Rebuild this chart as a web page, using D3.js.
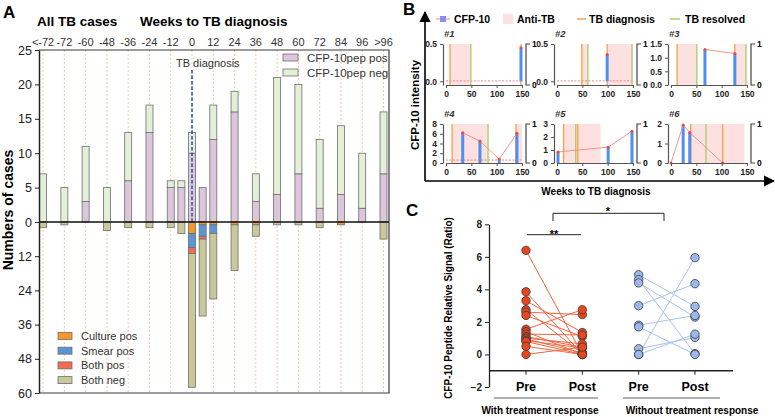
<!DOCTYPE html>
<html>
<head>
<meta charset="utf-8">
<script src="https://cdn.jsdelivr.net/npm/d3@7"></script>
<style>
body{margin:0;background:#fff;}
svg{display:block;font-family:"Liberation Sans",Arial,sans-serif;}
</style>
</head>
<body>
<div id="chart"></div>
<script>
// ---------- panel A data
const weekLabels = ["<-72","-72","-60","-48","-36","-24","-12","0","12","24","36","48","60","72","84","96",">96"];
const labelWeeks = [-84,-72,-60,-48,-36,-24,-12,0,12,24,36,48,60,72,84,96,108];
const barWeeks = [-84,-72,-60,-48,-36,-24,-12,-6,0,6,12,24,36,48,60,72,84,96,108];
const pepPos = [0,0,3,0,6,13,5,5,10,5,12,16,3,4,7,2,4,2,7];
const pepNeg = [7,5,8,5,7,4,1,1,3,0,5,3,4,17,13,10,10,8,9];
const culturePos = [0,0,0,0,0,0,0,0,4,1,1,1,1,0,0,0,1,0,0];
const smearPos   = [0,0,0,0,0,0,0,0,5,4,3,0,0,0,0,0,0,0,0];
const bothPos    = [0,0,0,0,0,0,0,0,2,1,0,0,0,0,0,0,0,0,0];
const bothNeg    = [2,1,0,3,2,2,2,4,47,27,23,16,4,1,1,2,0,0,6];
const upTicks = [0,5,10,15,20,25];
const downTicks = [12,24,36,48,60];

// ---------- panel B data
const miniNames = ["#1","#2","#3","#4","#5","#6"];
const miniYMin = [-0.05,-0.05,0,0,0,0];
const miniYMax = [0.5,0.5,1.5,8,3,2];
const miniYTicks = [[0,0.5],[0,0.5],[0,0.5,1,1.5],[0,2,4,6,8],[0,1,2,3],[0,1,2]];
const miniCutoff = [0.005,0.005,null,0.6,null,null];
const miniWeeks = [[148],[99],[67,126],[33,67,105,140],[2,101,148],[0,24,37,102]];
const miniSignal = [[0.45],[0.36],[1.3,1.15],[6.2,4.5,0.8,6.1],[0.85,1.22,2.45],[0,1.95,1.57,0]];
const miniAntiTB = [[[8,49]],[[49,61],[99,150]],[[12,51],[126,148]],[[12,83],[138,150]],[[13,86]],[[39,145]]];
const miniDiag = [[8,148],[49,99],[12,126],[12,138],[13,41],[39,102]];
const miniResolved = [[49],[61,148],[51,148],[83],[37],[69]];
const bLegend = ["CFP-10","Anti-TB","TB diagnosis","TB resolved"];

// ---------- panel C data
const cCats = ["Pre1","Post1","Pre2","Post2"];
const cLabels = ["Pre","Post","Pre","Post"];
const respPre  = [6.4,3.85,3.3,2.75,2.6,2.4,1.55,1.4,1.25,1.1,1.0,0.95,0.85,0.8,0.5,0.0];
const respPost = [0.0,0.0,1.35,0.05,2.45,1.1,2.75,0.0,1.2,0.45,0.65,0.1,0.4,0.0,0.0,0.45];
const nonPre  = [4.9,4.6,4.4,3.0,1.8,1.7,0.35,0.0,0.0];
const nonPost = [2.95,0.05,2.3,4.35,2.4,0.0,1.05,5.95,1.25];
const cTicks = [-2,0,2,4,6,8];

const svg = d3.select("#chart").append("svg").attr("width",775).attr("height",417);
svg.append("rect").attr("width",775).attr("height",417).attr("fill","#fff");

// ================= PANEL A
const a = {left:39,right:389,top:50,zero:222,bottom:393};
const x = d3.scaleLinear().domain([-86.3,111.1]).range([a.left,a.right]);
const yUp = d3.scaleLinear().domain([0,25]).range([a.zero,a.top]);
const yDown = d3.scaleLinear().domain([0,60]).range([a.zero,a.bottom]);

svg.append("text").attr("x",3).attr("y",18).attr("font-size",17).attr("font-weight","bold").text("A");
svg.append("text").attr("x",37).attr("y",26).attr("font-size",13.5).attr("font-weight","bold").text("All TB cases");
svg.append("text").attr("x",140).attr("y",26).attr("font-size",13.5).attr("font-weight","bold").text("Weeks to TB diagnosis");

// grid
svg.append("g").selectAll("line").data(labelWeeks).join("line")
  .attr("x1",d=>x(d)).attr("x2",d=>x(d)).attr("y1",a.top).attr("y2",a.bottom)
  .attr("stroke","#f7b98a").attr("stroke-width",0.8).attr("stroke-dasharray","2,2");

svg.append("g").selectAll("text").data(weekLabels).join("text")
  .attr("x",(d,i)=>x(labelWeeks[i])).attr("y",46).attr("text-anchor","middle")
  .attr("font-size",11).attr("fill","#333").text(d=>d);

// upper stacked bars
const upRows = barWeeks.map((w,i)=>({w,pos:pepPos[i],neg:pepNeg[i]}));
const upColor = {pos:"#dcc6dc",neg:"#e3efd8"};
svg.append("g").selectAll("g").data(d3.stack().keys(["pos","neg"])(upRows)).join("g")
  .attr("fill",d=>upColor[d.key])
  .selectAll("rect").data(d=>d.filter(s=>s[1]>s[0])).join("rect")
  .attr("x",d=>x(d.data.w)-3.5).attr("width",7)
  .attr("y",d=>yUp(d[1])).attr("height",d=>yUp(d[0])-yUp(d[1]))
  .attr("stroke","#6e6e6e").attr("stroke-width",0.8);

// lower stacked bars
const downRows = barWeeks.map((w,i)=>({w,culture:culturePos[i],smear:smearPos[i],both:bothPos[i],neg:bothNeg[i]}));
const downColor = {culture:"#f7962b",smear:"#5b95d5",both:"#f26d55",neg:"#c8c99a"};
svg.append("g").selectAll("g").data(d3.stack().keys(["culture","smear","both","neg"])(downRows)).join("g")
  .attr("fill",d=>downColor[d.key])
  .selectAll("rect").data(d=>d.filter(s=>s[1]>s[0])).join("rect")
  .attr("x",d=>x(d.data.w)-3.5).attr("width",7)
  .attr("y",d=>yDown(d[0])).attr("height",d=>yDown(d[1])-yDown(d[0]))
  .attr("stroke","#6e6e6e").attr("stroke-width",0.8);

// TB diagnosis marker
svg.append("line").attr("x1",x(0)).attr("x2",x(0)).attr("y1",70).attr("y2",a.zero)
  .attr("stroke","#2b5da8").attr("stroke-width",1.6).attr("stroke-dasharray","3.5,2");
svg.append("text").attr("x",x(0)-16).attr("y",67).attr("font-size",11).attr("fill","#333").text("TB diagnosis");

// frame + axes
svg.append("path").attr("d",`M${a.left},${a.top}H${a.right}V${a.bottom}H${a.left}`)
  .attr("fill","none").attr("stroke","#3a3a3a").attr("stroke-width",1.2);
svg.append("line").attr("x1",a.left).attr("x2",a.right).attr("y1",a.zero).attr("y2",a.zero)
  .attr("stroke","#111").attr("stroke-width",1.5);
const axU = svg.append("g").attr("transform",`translate(${a.left},0)`)
  .call(d3.axisLeft(yUp).tickValues(upTicks).tickSize(4).tickSizeOuter(0));
const axD = svg.append("g").attr("transform",`translate(${a.left},0)`)
  .call(d3.axisLeft(yDown).tickValues(downTicks).tickSize(4).tickSizeOuter(0));
[axU,axD].forEach(g=>{
  g.select(".domain").attr("stroke","#222").attr("stroke-width",1.5);
  g.selectAll("line").attr("stroke","#222");
  g.selectAll("text").attr("font-size",12.5).attr("fill","#222").attr("font-family","Liberation Sans, Arial, sans-serif");
});
svg.append("text").attr("transform","translate(13,210) rotate(-90)").attr("text-anchor","middle")
  .attr("font-size",14).attr("font-weight","bold").text("Numbers of cases");

// legends A
const legUp = [["CFP-10pep pos","pos"],["CFP-10pep neg","neg"]];
legUp.forEach((d,i)=>{
  svg.append("rect").attr("x",283).attr("y",54+i*15).attr("width",15).attr("height",7)
    .attr("fill",upColor[d[1]]).attr("stroke","#6e6e6e").attr("stroke-width",0.8);
  svg.append("text").attr("x",307).attr("y",62+i*15).attr("font-size",11.5).attr("fill","#333").text(d[0]);
});
const legDown = [["Culture pos","culture"],["Smear pos","smear"],["Both pos","both"],["Both neg","neg"]];
legDown.forEach((d,i)=>{
  svg.append("rect").attr("x",58).attr("y",332.5+i*14.7).attr("width",14).attr("height",7)
    .attr("fill",downColor[d[1]]).attr("stroke","#6e6e6e").attr("stroke-width",0.8);
  svg.append("text").attr("x",81).attr("y",340+i*14.7).attr("font-size",11).attr("fill","#333").text(d[0]);
});

// ================= PANEL B
svg.append("text").attr("x",403).attr("y",15).attr("font-size",17).attr("font-weight","bold").text("B");
const defs = svg.append("defs");
defs.append("marker").attr("id","arr").attr("viewBox","0 0 10 10").attr("refX",9).attr("refY",5)
  .attr("markerWidth",7).attr("markerHeight",7).attr("orient","auto")
  .append("path").attr("d","M0,0L10,5L0,10Z").attr("fill","#000");
svg.append("line").attr("x1",425).attr("y1",181).attr("x2",425).attr("y2",12)
  .attr("stroke","#000").attr("stroke-width",1.6).attr("marker-end","url(#arr)");
svg.append("line").attr("x1",425).attr("y1",181).attr("x2",774).attr("y2",181)
  .attr("stroke","#000").attr("stroke-width",1.6).attr("marker-end","url(#arr)");
svg.append("text").attr("transform","translate(419,105) rotate(-90)").attr("text-anchor","middle")
  .attr("font-size",11.5).attr("font-weight","bold").text("CFP-10 intensity");
svg.append("text").attr("x",596).attr("y",195).attr("text-anchor","middle")
  .attr("font-size",10).attr("font-weight","bold").text("Weeks to TB diagnosis");

// legend B
const bc = {blue:"#4f8ff0",red:"#ee4a3e",redLine:"#f28a80",pink:"#fde0e0",orange:"#f7a04a",green:"#9fd260"};
const lb = svg.append("g").attr("font-size",10.5).attr("font-weight","bold");
lb.append("line").attr("x1",436).attr("x2",450).attr("y1",19).attr("y2",19).attr("stroke",bc.redLine).attr("stroke-width",1);
lb.append("rect").attr("x",440).attr("y",16).attr("width",6).attr("height",6).attr("fill","#8c8cf0");
lb.append("text").attr("x",454).attr("y",23).text(bLegend[0]);
lb.append("rect").attr("x",503).attr("y",14).attr("width",10).attr("height",10).attr("fill",bc.pink);
lb.append("text").attr("x",517).attr("y",23).text(bLegend[1]);
lb.append("line").attr("x1",577).attr("x2",586).attr("y1",19).attr("y2",19).attr("stroke",bc.orange).attr("stroke-width",1.5);
lb.append("text").attr("x",589).attr("y",23).text(bLegend[2]);
lb.append("line").attr("x1",670).attr("x2",680).attr("y1",19).attr("y2",19).attr("stroke",bc.green).attr("stroke-width",1.5);
lb.append("text").attr("x",685).attr("y",23).text(bLegend[3]);

const colX = [446,557,671], rowTop = [44,124], rowBot = [85,163];
miniNames.forEach((nm,i)=>{
  const c = i%3, r = Math.floor(i/3);
  const x0 = colX[c], top = rowTop[r], bot = rowBot[r];
  const mx = d3.scaleLinear().domain([0,150]).range([x0,x0+76]);
  const my = d3.scaleLinear().domain([miniYMin[i],miniYMax[i]]).range([bot,top]);
  const g = svg.append("g");
  g.append("text").attr("x",x0-2).attr("y",top-7).attr("font-size",9.5)
    .attr("font-weight","bold").attr("font-style","italic").attr("fill","#333").text(nm);
  g.selectAll(".pk").data(miniAntiTB[i]).join("rect")
    .attr("x",d=>mx(d[0])).attr("width",d=>mx(d[1])-mx(d[0]))
    .attr("y",top).attr("height",bot-top).attr("fill",bc.pink);
  if(miniCutoff[i]!==null){
    g.append("line").attr("x1",x0).attr("x2",x0+76).attr("y1",my(miniCutoff[i])).attr("y2",my(miniCutoff[i]))
      .attr("stroke","#f06a6a").attr("stroke-width",0.8).attr("stroke-dasharray","2,1.5");
  }
  g.selectAll(".dg").data(miniDiag[i]).join("line")
    .attr("x1",d=>mx(d)).attr("x2",d=>mx(d)).attr("y1",top).attr("y2",bot)
    .attr("stroke",bc.orange).attr("stroke-width",1.3);
  g.selectAll(".rs").data(miniResolved[i]).join("line")
    .attr("x1",d=>mx(d)).attr("x2",d=>mx(d)).attr("y1",top).attr("y2",bot)
    .attr("stroke",bc.green).attr("stroke-width",1.3);
  const pts = miniWeeks[i].map((w,k)=>[w,miniSignal[i][k]]);
  g.selectAll(".bar").data(pts.filter(p=>p[1]>0)).join("rect")
    .attr("x",d=>mx(d[0])-1.5).attr("width",3)
    .attr("y",d=>my(d[1])).attr("height",d=>my(0)-my(d[1])).attr("fill",bc.blue);
  g.append("path").datum(pts).attr("fill","none").attr("stroke",bc.redLine).attr("stroke-width",0.9)
    .attr("d",d3.line().x(d=>mx(d[0])).y(d=>my(d[1])));
  g.selectAll(".dot").data(pts).join("circle")
    .attr("cx",d=>mx(d[0])).attr("cy",d=>my(d[1])).attr("r",1.5).attr("fill",bc.red);
  // axes
  const fmt = miniYMax[i] <= 1.5 ? d3.format(".1f") : d3.format("d");
  const ly = g.append("g").attr("transform",`translate(${x0-3},0)`)
    .call(d3.axisLeft(my).tickValues(miniYTicks[i]).tickSize(3).tickSizeOuter(0).tickFormat(fmt));
  const lx = g.append("g").attr("transform",`translate(0,${bot})`)
    .call(d3.axisBottom(mx).tickValues([0,50,100,150]).tickSize(3).tickSizeOuter(0));
  [ly,lx].forEach(ax=>{
    ax.select(".domain").attr("stroke","#555").attr("stroke-width",1.2);
    ax.selectAll("line").attr("stroke","#555");
    ax.selectAll("text").attr("font-size",8.5).attr("font-weight","bold").attr("fill","#222")
      .attr("font-family","Liberation Sans, Arial, sans-serif");
  });
  const xr = x0+80;
  g.append("path").attr("d",`M${xr+4},${top}H${xr}V${bot}H${xr+4}`).attr("fill","none")
    .attr("stroke","#444").attr("stroke-width",1.2);
  g.append("text").attr("x",xr+6).attr("y",top+3).attr("font-size",8.5).attr("font-weight","bold").text("1");
  g.append("text").attr("x",xr+6).attr("y",bot+3).attr("font-size",8.5).attr("font-weight","bold").text("0");
});

// ================= PANEL C
svg.append("text").attr("x",406).attr("y",216).attr("font-size",17).attr("font-weight","bold").text("C");
const cx = d3.scalePoint().domain(cCats).range([526,695]);
const cy = d3.scaleLinear().domain([-2,8]).range([387,224.3]);
svg.append("text").attr("transform","translate(452,308) rotate(-90)").attr("text-anchor","middle")
  .attr("font-size",10).attr("font-weight","bold").text("CFP-10 Peptide Relative Signal (Ratio)");

const ay = svg.append("g").attr("transform","translate(489,0)")
  .call(d3.axisLeft(cy).tickValues(cTicks).tickSize(4).tickSizeOuter(0));
ay.select(".domain").attr("stroke","#222").attr("stroke-width",1.3);
ay.selectAll("line").attr("stroke","#222");
ay.selectAll("text").attr("font-size",10).attr("font-weight","bold").attr("fill","#222")
  .attr("font-family","Liberation Sans, Arial, sans-serif");
svg.append("line").attr("x1",489).attr("x2",733).attr("y1",cy(-1)).attr("y2",cy(-1))
  .attr("stroke","#222").attr("stroke-width",1.3);
svg.append("g").selectAll("line").data(cCats).join("line")
  .attr("x1",d=>cx(d)).attr("x2",d=>cx(d)).attr("y1",cy(-1)).attr("y2",cy(-1)+4).attr("stroke","#222");
svg.append("g").selectAll("text").data(cCats).join("text")
  .attr("x",d=>cx(d)).attr("y",391).attr("text-anchor","middle")
  .attr("font-size",12.5).attr("font-weight","bold").text((d,i)=>cLabels[i]);
svg.append("line").attr("x1",494).attr("x2",598).attr("y1",398).attr("y2",398).attr("stroke","#333").attr("stroke-width",0.8);
svg.append("line").attr("x1",623).attr("x2",720).attr("y1",398).attr("y2",398).attr("stroke","#333").attr("stroke-width",0.8);
svg.append("text").attr("x",540).attr("y",414).attr("text-anchor","middle")
  .attr("font-size",10).attr("font-weight","bold").text("With treatment response");
svg.append("text").attr("x",692).attr("y",414).attr("text-anchor","middle")
  .attr("font-size",10).attr("font-weight","bold").text("Without treatment response");

function pairs(pre,post,c1,c2,lineCol,fill){
  const g = svg.append("g");
  g.selectAll("line").data(pre).join("line")
    .attr("x1",cx(c1)).attr("x2",cx(c2)).attr("y1",d=>cy(d)).attr("y2",(d,k)=>cy(post[k]))
    .attr("stroke",lineCol).attr("stroke-width",1);
  g.selectAll(".p1").data(pre).join("circle").attr("cx",cx(c1)).attr("cy",d=>cy(d)).attr("r",4.2)
    .attr("fill",fill).attr("stroke","#3a3a3a").attr("stroke-width",0.8);
  g.selectAll(".p2").data(post).join("circle").attr("cx",cx(c2)).attr("cy",d=>cy(d)).attr("r",4.2)
    .attr("fill",fill).attr("stroke","#3a3a3a").attr("stroke-width",0.8);
}
pairs(respPre,respPost,"Pre1","Post1","#f0653f","#e8461e");
pairs(nonPre,nonPost,"Pre2","Post2","#a9c4f2","#9bb9ee");

// significance
svg.append("line").attr("x1",527).attr("x2",581).attr("y1",234.7).attr("y2",234.7).attr("stroke","#222");
svg.append("text").attr("x",554).attr("y",238).attr("text-anchor","middle").attr("font-size",11).attr("font-weight","bold").text("**");
svg.append("path").attr("d","M553,221V213.3H664V221").attr("fill","none").attr("stroke","#222");
svg.append("text").attr("x",608).attr("y",215).attr("text-anchor","middle").attr("font-size",11).attr("font-weight","bold").text("*");
</script>
</body>
</html>
